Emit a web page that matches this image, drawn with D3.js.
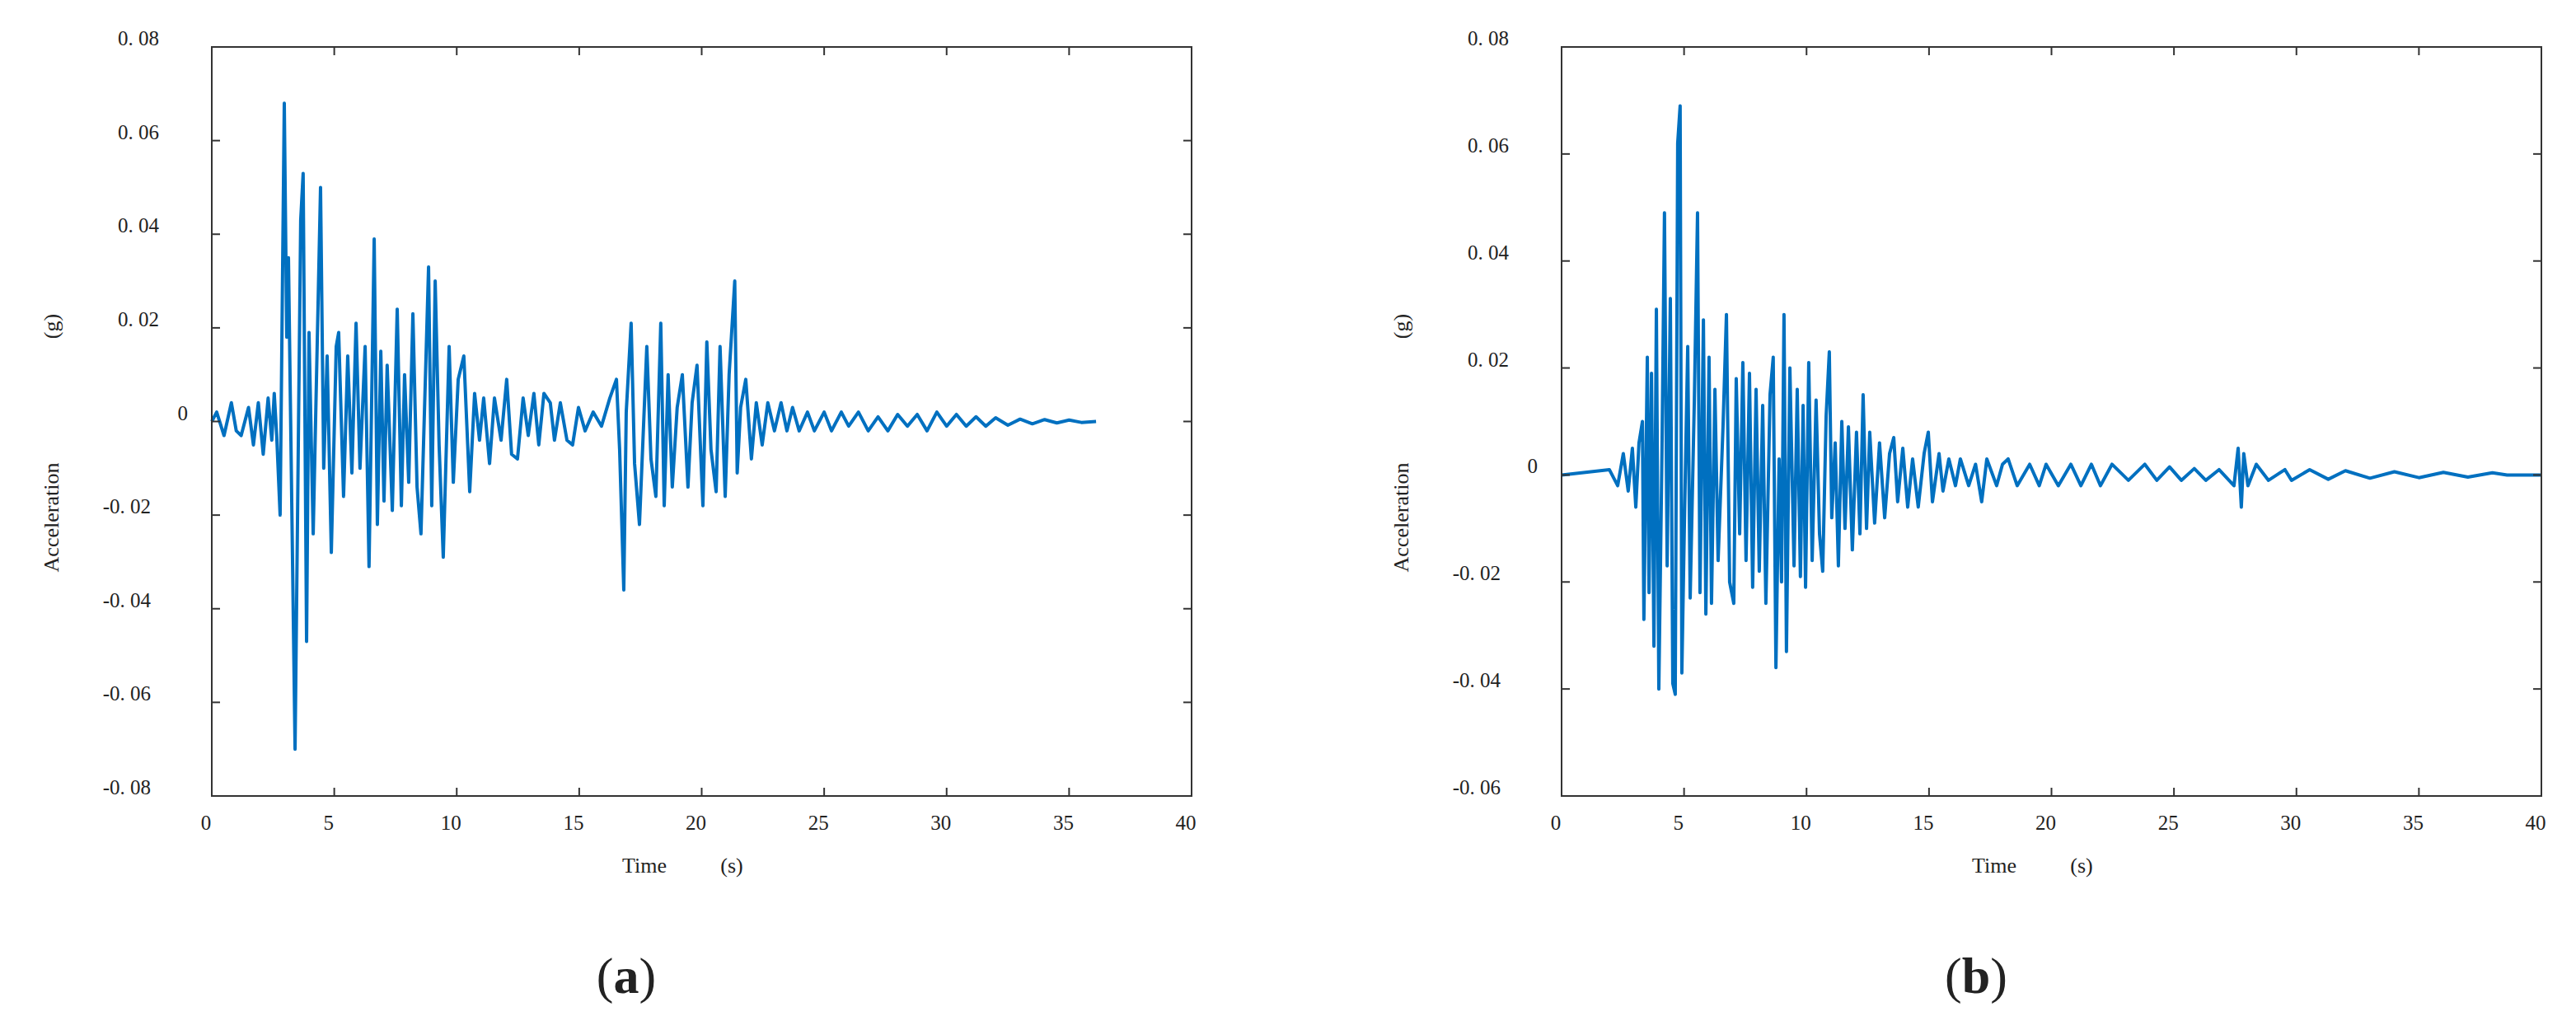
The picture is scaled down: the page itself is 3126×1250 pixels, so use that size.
<!DOCTYPE html>
<html><head><meta charset="utf-8">
<script src="https://cdn.jsdelivr.net/npm/d3@7"></script>
<style>body{margin:0;background:#fff}text{font-family:"Liberation Serif",serif;fill:#222}</style>
</head><body>
<svg id="c" width="3126" height="1250"></svg>
<script>
// Chart (a) peaks: [time (s), acceleration (g)]
const seriesA = [[0,0],[0.2,0.002],[0.5,-0.003],[0.8,0.004],[1.0,-0.002],[1.2,-0.003],[1.5,0.003],[1.7,-0.005],[1.9,0.004],[2.1,-0.007],[2.3,0.005],[2.45,-0.004],[2.55,0.006],[2.65,-0.003],[2.79,-0.020],[2.96,0.068],[3.06,0.018],[3.13,0.035],[3.30,-0.031],[3.40,-0.070],[3.63,0.043],[3.73,0.053],[3.87,-0.047],[3.97,0.019],[4.14,-0.024],[4.44,0.050],[4.57,-0.010],[4.71,0.014],[4.88,-0.028],[5.08,0.016],[5.18,0.019],[5.38,-0.016],[5.55,0.014],[5.72,-0.011],[5.89,0.021],[6.05,-0.010],[6.26,0.016],[6.42,-0.031],[6.63,0.039],[6.76,-0.022],[6.90,0.015],[7.03,-0.017],[7.16,0.012],[7.37,-0.019],[7.57,0.024],[7.74,-0.018],[7.87,0.010],[8.04,-0.013],[8.21,0.023],[8.38,-0.014],[8.54,-0.024],[8.85,0.033],[8.98,-0.018],[9.12,0.030],[9.28,-0.005],[9.45,-0.029],[9.69,0.016],[9.86,-0.013],[10.06,0.009],[10.29,0.014],[10.53,-0.015],[10.73,0.006],[10.93,-0.004],[11.10,0.005],[11.34,-0.009],[11.54,0.005],[11.81,-0.004],[12.04,0.009],[12.24,-0.007],[12.48,-0.008],[12.71,0.005],[12.92,-0.003],[13.15,0.006],[13.35,-0.005],[13.56,0.006],[13.82,0.004],[13.99,-0.004],[14.23,0.004],[14.50,-0.004],[14.73,-0.005],[14.97,0.003],[15.24,-0.002],[15.57,0.002],[15.91,-0.001],[16.25,0.005],[16.52,0.009],[16.65,-0.006],[16.82,-0.036],[16.92,0.002],[17.12,0.021],[17.26,-0.009],[17.46,-0.022],[17.76,0.016],[17.93,-0.008],[18.13,-0.016],[18.33,0.021],[18.47,-0.018],[18.63,0.010],[18.80,-0.014],[19.00,0.003],[19.21,0.010],[19.44,-0.014],[19.61,0.004],[19.81,0.012],[20.05,-0.018],[20.21,0.017],[20.38,-0.006],[20.59,-0.015],[20.75,0.016],[20.96,-0.016],[21.12,0.010],[21.35,0.030],[21.45,-0.011],[21.59,0.003],[21.80,0.009],[22.03,-0.008],[22.23,0.004],[22.47,-0.005],[22.70,0.004],[22.97,-0.002],[23.24,0.004],[23.48,-0.002],[23.71,0.003],[23.98,-0.002],[24.32,0.002],[24.6,-0.002],[25.0,0.002],[25.3,-0.002],[25.7,0.002],[26.0,-0.001],[26.4,0.002],[26.8,-0.002],[27.2,0.001],[27.6,-0.002],[28.0,0.0015],[28.4,-0.001],[28.8,0.0015],[29.2,-0.002],[29.6,0.002],[30.0,-0.001],[30.4,0.0015],[30.8,-0.001],[31.2,0.001],[31.6,-0.001],[32.0,0.0008],[32.5,-0.0008],[33.0,0.0005],[33.5,-0.0005],[34.0,0.0004],[34.5,-0.0003],[35.0,0.0003],[35.5,-0.0002],[36.1,0]];
// Chart (b) peaks: [time (s), acceleration (g)]
const seriesB = [[0,0],[1.95,0.001],[2.29,-0.002],[2.52,0.004],[2.72,-0.003],[2.89,0.005],[3.03,-0.006],[3.16,0.006],[3.30,0.010],[3.36,-0.027],[3.50,0.022],[3.57,-0.022],[3.67,0.019],[3.77,-0.032],[3.87,0.031],[3.97,-0.040],[4.10,0.005],[4.20,0.049],[4.31,-0.017],[4.44,0.033],[4.54,-0.039],[4.64,-0.041],[4.74,0.062],[4.84,0.069],[4.91,-0.037],[5.01,-0.010],[5.15,0.024],[5.25,-0.023],[5.42,0.014],[5.55,0.049],[5.65,-0.022],[5.79,0.029],[5.89,-0.026],[6.02,0.022],[6.12,-0.024],[6.26,0.016],[6.39,-0.016],[6.59,0.009],[6.73,0.030],[6.86,-0.020],[7.03,-0.024],[7.13,0.018],[7.27,-0.011],[7.40,0.021],[7.53,-0.016],[7.67,0.019],[7.80,-0.021],[7.94,0.016],[8.07,-0.018],[8.21,0.013],[8.34,-0.024],[8.51,0.015],[8.64,0.022],[8.75,-0.036],[8.88,0.003],[8.98,-0.020],[9.08,0.030],[9.18,-0.033],[9.32,0.020],[9.49,-0.017],[9.62,0.016],[9.75,-0.019],[9.86,0.013],[9.96,-0.021],[10.09,0.021],[10.23,-0.016],[10.39,0.014],[10.53,-0.011],[10.66,-0.018],[10.80,0.011],[10.93,0.023],[11.03,-0.008],[11.17,0.006],[11.30,-0.017],[11.44,0.010],[11.57,-0.010],[11.71,0.009],[11.87,-0.014],[12.04,0.008],[12.18,-0.011],[12.31,0.015],[12.45,-0.010],[12.58,0.008],[12.78,-0.009],[12.98,0.006],[13.19,-0.008],[13.39,0.004],[13.56,0.007],[13.72,-0.005],[13.93,0.005],[14.13,-0.006],[14.33,0.003],[14.56,-0.006],[14.80,0.004],[14.97,0.008],[15.14,-0.005],[15.41,0.004],[15.57,-0.003],[15.81,0.003],[16.08,-0.002],[16.28,0.003],[16.62,-0.002],[16.9,0.002],[17.15,-0.005],[17.36,0.003],[17.76,-0.002],[18.0,0.002],[18.23,0.003],[18.60,-0.002],[19.11,0.002],[19.5,-0.002],[19.78,0.002],[20.28,-0.002],[20.79,0.002],[21.2,-0.002],[21.63,0.002],[22.0,-0.002],[22.47,0.002],[23.14,-0.001],[23.81,0.002],[24.3,-0.001],[24.82,0.0015],[25.3,-0.001],[25.83,0.0012],[26.3,-0.001],[26.84,0.001],[27.45,-0.002],[27.62,0.005],[27.75,-0.006],[27.85,0.004],[28.02,-0.002],[28.36,0.002],[28.86,-0.001],[29.53,0.001],[29.80,-0.001],[30.54,0.001],[31.3,-0.0008],[32.0,0.0008],[33.0,-0.0006],[34.0,0.0006],[35.0,-0.0005],[36.0,0.0005],[37.0,-0.0004],[38.0,0.0004],[38.6,0],[40,0]];
const xTicks = [0,5,10,15,20,25,30,35,40];
const yTicksA = [-0.08,-0.06,-0.04,-0.02,0,0.02,0.04,0.06,0.08];
const yTicksB = [-0.06,-0.04,-0.02,0,0.02,0.04,0.06,0.08];

const svg = d3.select("#c");
function fmt(v){ if(v===0) return "0"; return (v<0?"-":"") + Math.abs(v).toFixed(2).replace(".", ". "); }

function panel(left, data, yDom, yTicks, tag){
  const right = left + 1189, top = 57, bottom = 966;
  const x = d3.scaleLinear().domain([0,40]).range([left,right]);
  const y = d3.scaleLinear().domain(yDom).range([bottom,top]);
  const g = svg.append("g");
  g.append("path").datum(data)
    .attr("fill","none").attr("stroke","#0070c0").attr("stroke-width",4).attr("stroke-linejoin","round")
    .attr("d", d3.line().x(d=>x(d[0])).y(d=>y(d[1])));
  g.append("rect").attr("x",left).attr("y",top).attr("width",right-left).attr("height",bottom-top)
    .attr("fill","none").attr("stroke","#333").attr("stroke-width",2);
  xTicks.forEach(v=>{
    g.append("line").attr("x1",x(v)).attr("x2",x(v)).attr("y1",bottom).attr("y2",bottom-10).attr("stroke","#333").attr("stroke-width",2);
    g.append("line").attr("x1",x(v)).attr("x2",x(v)).attr("y1",top).attr("y2",top+10).attr("stroke","#333").attr("stroke-width",2);
    g.append("text").attr("x",x(v)-7).attr("y",1007).attr("text-anchor","middle").attr("font-size",25).text(v);
  });
  yTicks.forEach(v=>{
    g.append("line").attr("x1",left).attr("x2",left+10).attr("y1",y(v)).attr("y2",y(v)).attr("stroke","#333").attr("stroke-width",2);
    g.append("line").attr("x1",right).attr("x2",right-10).attr("y1",y(v)).attr("y2",y(v)).attr("stroke","#333").attr("stroke-width",2);
    const off = v===0 ? 29 : (v<0 ? 74 : 64);
    g.append("text").attr("x",left-off).attr("y",y(v)-2).attr("text-anchor","end").attr("font-size",25).text(fmt(v));
  });
  g.append("text").attr("x",x(0)+525).attr("y",1059).attr("text-anchor","middle").attr("font-size",26).text("Time");
  g.append("text").attr("x",x(0)+631).attr("y",1059).attr("text-anchor","middle").attr("font-size",26).text("(s)");
  g.append("text").attr("transform",`translate(${left-186},396) rotate(-90)`).attr("text-anchor","middle").attr("font-size",26).text("(g)");
  g.append("text").attr("transform",`translate(${left-186},628) rotate(-90)`).attr("text-anchor","middle").attr("font-size",26).text("Acceleration");
  g.append("text").attr("x",x(0)+503).attr("y",1205).attr("text-anchor","middle").attr("font-size",62)
    .html(`(<tspan font-weight="bold">${tag}</tspan>)`);
}
panel(257, seriesA, [-0.08,0.08], yTicksA, "a");
panel(1895, seriesB, [-0.06,0.08], yTicksB, "b");
</script>
</body></html>
